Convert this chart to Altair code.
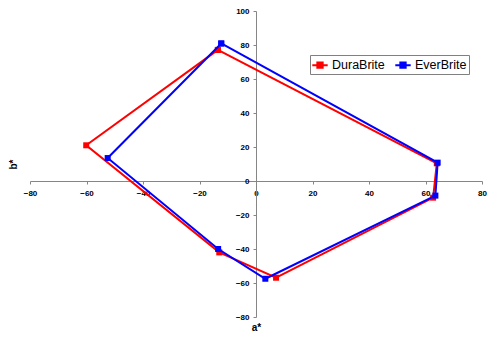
import altair as alt
import pandas as pd

series_names = ["DuraBrite", "EverBrite"]
series_colors = ["#ff0000", "#0000ff"]

dura_a = [-13.5, 64.0, 62.7, 7.1, -13.0, -60.1, -13.5]
dura_b = [77.1, 10.4, -9.8, -56.9, -42.0, 21.0, 77.1]
ever_a = [-12.3, 64.3, 63.5, 3.3, -13.4, -52.5, -12.3]
ever_b = [80.9, 10.8, -8.6, -57.5, -40.0, 13.5, 80.9]

x_ticks = [-80, -60, -40, -20, 0, 20, 40, 60, 80]
y_ticks = [-80, -60, -40, -20, 0, 20, 40, 60, 80, 100]

rows = []
for name, xs, ys in [("DuraBrite", dura_a, dura_b), ("EverBrite", ever_a, ever_b)]:
    for i, (a, b) in enumerate(zip(xs, ys)):
        rows.append({"series": name, "a": a, "b": b, "order": i})
df = pd.DataFrame(rows)

W, H = 452, 306
x_off = -(H * 80 / 180)   # x-axis at b = 0
y_off = -(W / 2)          # y-axis at a = 0

FONT = "Liberation Sans"
AXIS_GRAY = "#868686"

x_enc = alt.X(
    "a:Q",
    scale=alt.Scale(domain=[-80, 80], nice=False, zero=False),
    axis=alt.Axis(
        values=x_ticks, offset=x_off, title="a*",
        titleX=W / 2, titleY=316 - (H + x_off), titleBaseline="middle",
        titleAlign="center",
        labelPadding=5, labelOverlap=False, labelFlush=False,
    ),
)
y_enc = alt.Y(
    "b:Q",
    scale=alt.Scale(domain=[-80, 100], nice=False, zero=False),
    axis=alt.Axis(
        values=y_ticks, offset=y_off, title="b*",
        titleX=-17 + y_off, titleY=153, titleBaseline="middle",
        titleAlign="center", titleAngle=270,
        labelPadding=4, labelOverlap=False, labelFlush=False,
    ),
)

legend_path = "M-1.1,0H1.1M-0.38,-0.38H0.38V0.38H-0.38Z"
color_enc = alt.Color(
    "series:N",
    scale=alt.Scale(domain=series_names, range=series_colors),
    legend=alt.Legend(
        orient="none", legendX=280, legendY=44, direction="horizontal",
        title=None, symbolType=legend_path, symbolSize=196,
        symbolStrokeWidth=2, labelFont=FONT, labelFontSize=12.5,
        labelColor="#000000", strokeColor="#808080", fillColor="#ffffff",
        padding=2, columnPadding=6, labelOffset=4,
    ),
)

base = alt.Chart(df).encode(x=x_enc, y=y_enc, color=color_enc, order="order:Q")

layers = []
for s in series_names:
    sub = base.transform_filter(alt.datum.series == s)
    layers.append(sub.mark_line(strokeWidth=2))
    layers.append(sub.mark_square(size=36, opacity=1, filled=True))

chart = alt.layer(*layers).properties(
    width=W, height=H,
    autosize=alt.AutoSizeParams(type="none"),
    padding={"left": 22, "top": 3, "right": 6, "bottom": 15},
    background="#ffffff",
).configure_view(stroke=None).configure_axis(
    grid=False, domainColor=AXIS_GRAY, tickColor=AXIS_GRAY, tickSize=3,
    domainWidth=1, labelFont=FONT, labelFontSize=8, labelFontWeight="bold",
    labelColor="#000000", titleFont=FONT, titleFontSize=10,
    titleFontWeight="bold", titleColor="#000000",
)

chart.save("out.html", embed_options={"renderer": "svg", "actions": False})
